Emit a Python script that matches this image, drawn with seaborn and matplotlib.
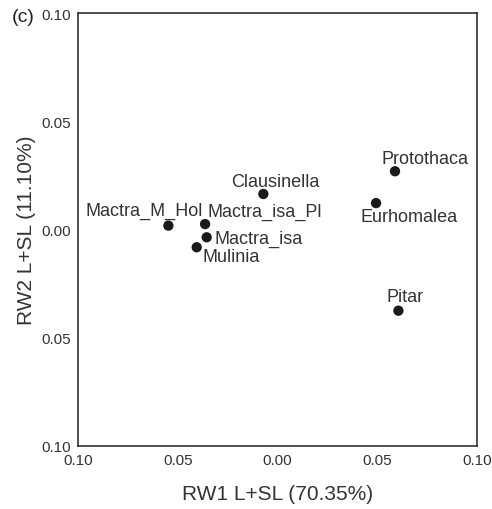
import matplotlib
matplotlib.use("Agg")
import matplotlib.pyplot as plt
import seaborn as sns
import pandas as pd

taxa = ["Clausinella", "Mactra_M_Hol", "Mactra_isa_Pl", "Mactra_isa", "Mulinia",
        "Protothaca", "Eurhomalea", "Pitar"]
rw1 = [-0.0071, -0.0547, -0.0363, -0.0355, -0.0405, 0.0589, 0.0494, 0.0606]
rw2 = [0.0164, 0.0018, 0.0025, -0.0036, -0.0082, 0.0269, 0.0122, -0.0375]
tick_vals = [-0.10, -0.05, 0.00, 0.05, 0.10]
tick_labels = ["0.10", "0.05", "0.00", "0.05", "0.10"]

df = pd.DataFrame({"taxon": taxa, "RW1": rw1, "RW2": rw2})

sns.set_theme(style="white")
plt.rcParams["font.family"] = ["Liberation Sans", "DejaVu Sans"]

fig = plt.figure(figsize=(4.92, 5.10), dpi=100)
ax = fig.add_axes([78/492, 1-447/510, 399/492, 433/510])

sns.scatterplot(data=df, x="RW1", y="RW2", color="#1a1a1a", s=55,
                edgecolor="none", ax=ax, legend=False, zorder=3)

# label offsets in pixels (dx, dy) relative to points
offsets = {
    "Clausinella": (12, 12),
    "Mactra_M_Hol": (-24, 15),
    "Mactra_isa_Pl": (60, 13),
    "Mactra_isa": (52, -1),
    "Mulinia": (34, -9),
    "Protothaca": (30, 13),
    "Eurhomalea": (33, -13),
    "Pitar": (7, 14),
}
for t, x, y in zip(taxa, rw1, rw2):
    dx, dy = offsets[t]
    ax.annotate(t, (x, y), xytext=(dx, dy), textcoords="offset pixels",
                ha="center", va="center", fontsize=13, color="#333333")

ax.set_xlim(-0.10, 0.10)
ax.set_ylim(-0.10, 0.10)
ax.set_xticks(tick_vals)
ax.set_xticklabels(tick_labels)
ax.set_yticks(tick_vals)
ax.set_yticklabels(tick_labels)
ax.tick_params(axis="both", length=0, labelsize=11, labelcolor="#333333", pad=5)
ax.set_xlabel("RW1 L+SL (70.35%)", fontsize=15, color="#333333", labelpad=12)
ax.set_ylabel("RW2 L+SL (11.10%)", fontsize=15, color="#333333", labelpad=4)
for sp in ax.spines.values():
    sp.set_color("#222222")
    sp.set_linewidth(1.1)
    sp.set_visible(True)

fig.text(12/492, 1-17/510, "(c)", fontsize=14, color="#222222", va="center", ha="left")

fig.savefig("out.png", dpi=100)
